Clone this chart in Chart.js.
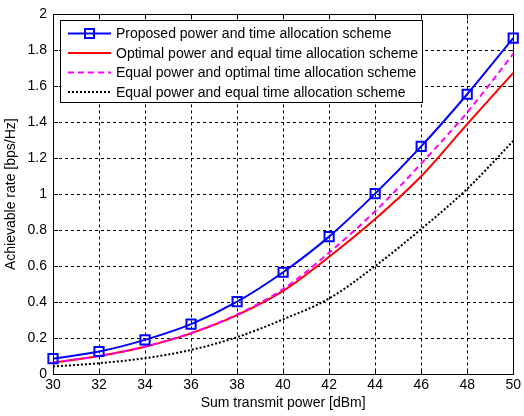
<!DOCTYPE html>
<html>
<head>
<meta charset="utf-8">
<script src="https://cdn.jsdelivr.net/npm/chart.js@4/dist/chart.umd.min.js"></script>
<style>
  html, body { margin: 0; padding: 0; background: #fff; }
  #wrap { width: 524px; height: 416px; }
</style>
</head>
<body>
<div id="wrap"><canvas id="rateChart" width="524" height="416"></canvas></div>
<script>
// sum transmit power [dBm]
const powerDbm = [30, 32, 34, 36, 38, 40, 42, 44, 46, 48, 50];
// achievable rate [bps/Hz]
const proposedRate = [0.085, 0.125, 0.19, 0.277, 0.402, 0.566, 0.764, 1.003, 1.266, 1.556, 1.868];
const optPowerEqTime = [0.064, 0.10, 0.152, 0.226, 0.327, 0.462, 0.652, 0.862, 1.10, 1.39, 1.675];
const eqPowerOptTime = [0.064, 0.10, 0.153, 0.228, 0.331, 0.472, 0.675, 0.905, 1.17, 1.455, 1.78];
const eqPowerEqTime = [0.042, 0.06, 0.088, 0.134, 0.205, 0.304, 0.42, 0.60, 0.806, 1.03, 1.296];
const yTicks = [0, 0.2, 0.4, 0.6, 0.8, 1, 1.2, 1.4, 1.6, 1.8, 2];

const FONT = 'Arial, "Liberation Sans", sans-serif';

function toPoints(values) {
    return values.map(function (v, i) { return { x: powerDbm[i], y: v }; });
}

// frame, inward tick marks and the boxed legend, MATLAB style
const matlabFrame = {
    id: 'matlabFrame',
    afterDatasetsDraw(chart) {
        const ctx = chart.ctx;
        const area = chart.chartArea;
        const xs = chart.scales.x;
        const ys = chart.scales.y;
        const tick = 5;

        ctx.save();
        ctx.strokeStyle = '#000';
        ctx.lineWidth = 1;
        ctx.setLineDash([]);
        ctx.beginPath();
        xs.ticks.forEach(function (t) {
            const px = Math.round(xs.getPixelForValue(t.value)) + 0.5;
            ctx.moveTo(px, area.bottom); ctx.lineTo(px, area.bottom - tick);
            ctx.moveTo(px, area.top); ctx.lineTo(px, area.top + tick);
        });
        ys.ticks.forEach(function (t) {
            const py = Math.round(ys.getPixelForValue(t.value)) + 0.5;
            ctx.moveTo(area.left, py); ctx.lineTo(area.left + tick, py);
            ctx.moveTo(area.right, py); ctx.lineTo(area.right - tick, py);
        });
        ctx.stroke();
        ctx.strokeRect(Math.round(area.left) + 0.5, Math.round(area.top) + 0.5,
            Math.round(area.right - area.left), Math.round(area.bottom - area.top));

        // legend box
        const box = { x: 60.5, y: 20.5, w: 362, h: 82 };
        ctx.fillStyle = '#fff';
        ctx.fillRect(box.x, box.y, box.w, box.h);
        ctx.strokeRect(box.x, box.y, box.w, box.h);

        const rows = [33.5, 53, 72.5, 92];
        ctx.font = '14px ' + FONT;
        ctx.textBaseline = 'middle';
        ctx.textAlign = 'left';
        chart.data.datasets.forEach(function (ds, i) {
            const y = rows[i];
            ctx.strokeStyle = ds.borderColor;
            ctx.lineWidth = ds.borderWidth;
            ctx.setLineDash(ds.borderDash || []);
            ctx.beginPath();
            ctx.moveTo(68, y); ctx.lineTo(111, y);
            ctx.stroke();
            ctx.setLineDash([]);
            if (ds.pointRadius > 0) {
                ctx.lineWidth = ds.pointBorderWidth;
                ctx.strokeRect(89.5 - 4.5, y - 4.5, 9, 9);
            }
            ctx.fillStyle = '#000';
            ctx.fillText(ds.label, 116, y + 1);
        });
        ctx.restore();
    }
};

const ctx = document.getElementById('rateChart').getContext('2d');

new Chart(ctx, {
    type: 'line',
    data: {
        datasets: [{
            label: 'Proposed power and time allocation scheme',
            data: toPoints(proposedRate),
            borderColor: '#0000ff',
            borderWidth: 2,
            pointStyle: 'rect',
            pointRadius: 6.5,
            pointBorderWidth: 2,
            pointBorderColor: '#0000ff',
            pointBackgroundColor: 'rgba(0,0,0,0)',
            order: 0
        }, {
            label: 'Optimal power and equal time allocation scheme',
            data: toPoints(optPowerEqTime),
            borderColor: '#ff0000',
            borderWidth: 2,
            pointRadius: 0,
            order: 2
        }, {
            label: 'Equal power and optimal time allocation scheme',
            data: toPoints(eqPowerOptTime),
            borderColor: '#ff00ff',
            borderWidth: 2,
            borderDash: [6, 4],
            pointRadius: 0,
            order: 1
        }, {
            label: 'Equal power and equal time allocation scheme',
            data: toPoints(eqPowerEqTime),
            borderColor: '#000000',
            borderWidth: 2,
            borderDash: [2, 2],
            pointRadius: 0,
            order: 3
        }]
    },
    options: {
        responsive: false,
        animation: false,
        clip: false,
        layout: { padding: { left: 0, top: 13, right: 7, bottom: 0 } },
        elements: { line: { cubicInterpolationMode: 'monotone', fill: false } },
        plugins: {
            legend: { display: false },
            tooltip: { enabled: false }
        },
        scales: {
            x: {
                type: 'linear',
                min: 30,
                max: 50,
                afterFit: function (s) { s.height = 42; },
                ticks: {
                    stepSize: 2,
                    padding: 3,
                    color: '#000',
                    font: { family: FONT, size: 14 },
                    maxRotation: 0
                },
                grid: { color: '#000', lineWidth: 1, drawTicks: false },
                border: { display: false, dash: [3, 3] },
                title: {
                    display: true,
                    text: 'Sum transmit power [dBm]',
                    color: '#000',
                    font: { family: FONT, size: 14 },
                    padding: { top: 0, bottom: 4.5 }
                }
            },
            y: {
                min: 0,
                max: 2,
                afterFit: function (s) { s.width = 53; },
                afterBuildTicks: function (s) {
                    s.ticks = yTicks.map(function (v) { return { value: v }; });
                },
                ticks: {
                    padding: 6,
                    color: '#000',
                    font: { family: FONT, size: 14 },
                    callback: function (v) { return String(Math.round(v * 10) / 10); }
                },
                grid: { color: '#000', lineWidth: 1, drawTicks: false },
                border: { display: false, dash: [3, 3] },
                title: {
                    display: true,
                    text: 'Achievable rate [bps/Hz]',
                    color: '#000',
                    font: { family: FONT, size: 14 },
                    padding: { top: 2.5, bottom: 0 }
                }
            }
        }
    },
    plugins: [matlabFrame]
});
</script>
</body>
</html>
